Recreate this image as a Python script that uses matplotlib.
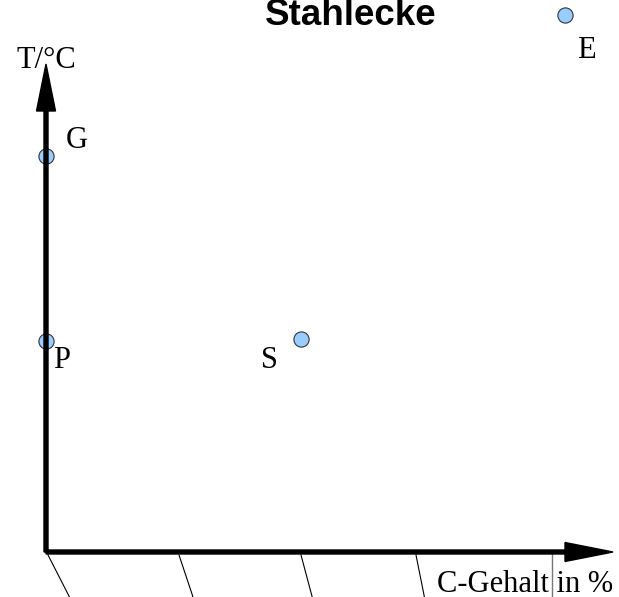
import matplotlib.pyplot as plt

# schematic coordinates (origin at the axis corner, units ~ pixels)
point_names = ['G', 'P', 'S', 'E']
point_x = [0, 0, 255, 519]
point_y = [396, 211, 213, 537]
label_x = [31, 16, 223, 540]
label_y = [411, 191, 191, 501]

# slanted hatch strokes under the x axis: (x_top, x_bottom)
hatch_top = [2, 133, 255, 370]
hatch_bottom = [25, 148, 267, 379]
cut_x = 506

fig = plt.figure(figsize=(6.19, 5.97), dpi=100)
ax = fig.add_axes([0, 0, 1, 1])
ax.set_xlim(-46, 573)
ax.set_ylim(-45, 552)
ax.axis('off')

serif = ['Liberation Serif', 'DejaVu Serif']

# hatch strokes and the thin grey cut line
for xt, xb in zip(hatch_top, hatch_bottom):
    ax.plot([xt, xb], [-3, -48], color='black', lw=0.8, zorder=1)
ax.plot([cut_x, cut_x], [-2, -48], color='#777777', lw=1.0, zorder=1)

# points
ax.scatter(point_x, point_y, s=120, facecolor='#99ccff', edgecolor='#333333',
           linewidth=0.8, zorder=2)
for name, lx, ly in zip(point_names, label_x, label_y):
    ax.text(lx, ly, name, fontsize=22, family=serif, ha='center', va='center')

# axes with arrow heads
ax.arrow(0, 0, 567, 0, width=4, head_width=19, head_length=48,
         length_includes_head=True, color='black', zorder=3)
ax.arrow(0, 0, 0, 488, width=4, head_width=19, head_length=47,
         length_includes_head=True, color='black', zorder=3)

ax.text(0, 492, 'T/°C', fontsize=22, family=serif, ha='center', va='center')
ax.text(479, -32, 'C-Gehalt in %', fontsize=22, family=serif, ha='center', va='center')

fig.text(351 / 619, 1 - 25 / 597, 'Stahlecke', fontsize=26.5, fontweight='bold',
         family=['Liberation Sans', 'DejaVu Sans'], ha='center', va='baseline')

fig.savefig('out.png', dpi=100)
